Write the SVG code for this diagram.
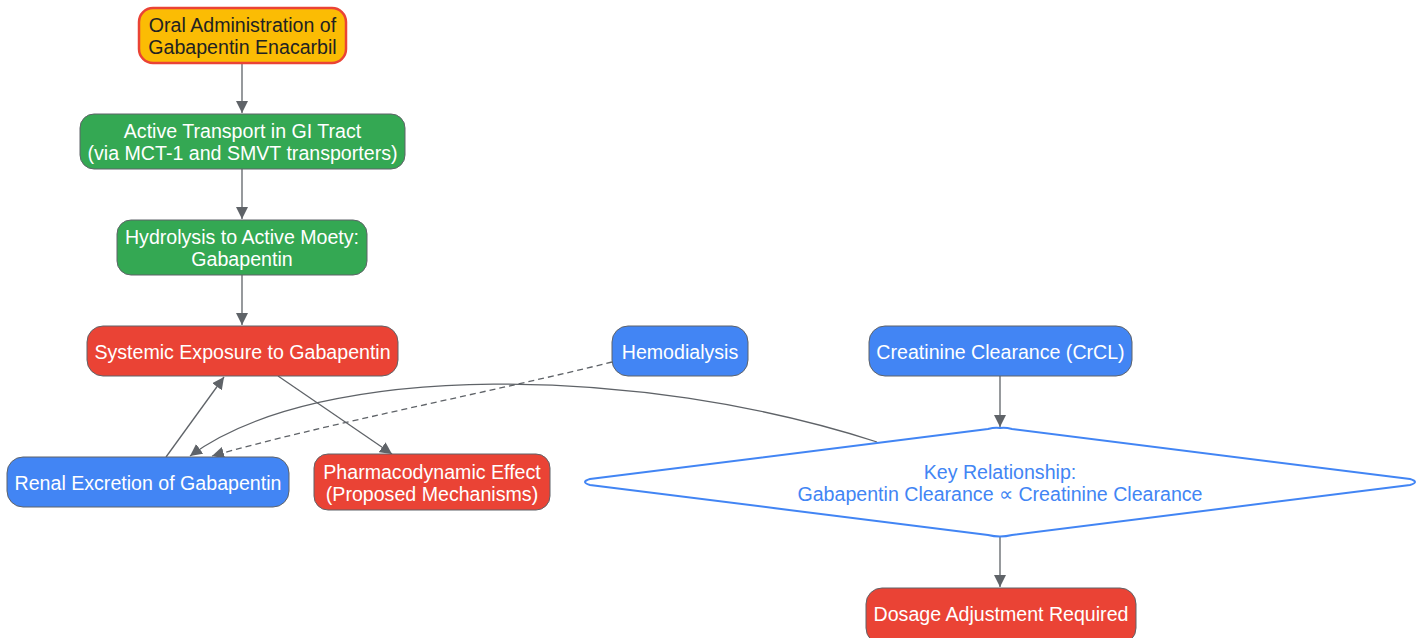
<svg xmlns="http://www.w3.org/2000/svg" width="1425" height="638" viewBox="0 0 1425 638">
<style>
text{font-family:"Liberation Sans",Arial,sans-serif;font-size:19.6px;text-anchor:middle}
.w{fill:#ffffff}
.node{stroke:#5f6368;stroke-width:1}
.red{fill:#EA4335}.green{fill:#34A853}.blue{fill:#4285F4}
.e{fill:none;stroke:#5f6368;stroke-width:1.3}
.d{stroke-dasharray:6,4}
</style>
<defs>
<marker id="a" viewBox="0 0 10 10" refX="10" refY="5" markerWidth="12" markerHeight="12" markerUnits="userSpaceOnUse" orient="auto">
<path d="M0,0 L10,5 L0,10 z" fill="#5f6368"/>
</marker>
</defs>
<rect width="1425" height="638" fill="#ffffff"/>
<g id="edges">
<path class="e" d="M242,63 V113" marker-end="url(#a)"/>
<path class="e" d="M242,169 V219" marker-end="url(#a)"/>
<path class="e" d="M242,275 V325" marker-end="url(#a)"/>
<path class="e" d="M278,376 L392,454" marker-end="url(#a)"/>
<path class="e" d="M166,457 L224,377" marker-end="url(#a)"/>
<path class="e" d="M877,442 C640,365 320,360 190,456" marker-end="url(#a)"/>
<path class="e d" d="M612,362 C500,390 320,425 212,456" marker-end="url(#a)"/>
<path class="e" d="M1000,376 V427" marker-end="url(#a)"/>
<path class="e" d="M1000,537 V587" marker-end="url(#a)"/>
</g>
<g id="n1">
<rect x="139" y="8" width="207" height="55" rx="14" fill="#FBBC04" stroke="#EA4335" stroke-width="2.5"/>
<text x="242.5" y="32" fill="#222">Oral Administration of</text>
<text x="242.5" y="54" fill="#222">Gabapentin Enacarbil</text>
</g>
<g id="n2">
<rect class="node green" x="80" y="114" width="325" height="55" rx="14"/>
<text class="w" x="242.5" y="138">Active Transport in GI Tract</text>
<text class="w" x="242.5" y="160">(via MCT-1 and SMVT transporters)</text>
</g>
<g id="n3">
<rect class="node green" x="117" y="220" width="250" height="55" rx="14"/>
<text class="w" x="242" y="244">Hydrolysis to Active Moety:</text>
<text class="w" x="242" y="266">Gabapentin</text>
</g>
<g id="n4">
<rect class="node red" x="87" y="326" width="311" height="50" rx="16"/>
<text class="w" x="242.5" y="359">Systemic Exposure to Gabapentin</text>
</g>
<g id="n5">
<rect class="node blue" x="612" y="326" width="136" height="50" rx="16"/>
<text class="w" x="680" y="359">Hemodialysis</text>
</g>
<g id="n6">
<rect class="node blue" x="869" y="326" width="263" height="50" rx="16"/>
<text class="w" x="1000.5" y="359">Creatinine Clearance (CrCL)</text>
</g>
<g id="n7">
<rect class="node blue" x="7" y="457" width="282" height="50" rx="16"/>
<text class="w" x="148" y="490">Renal Excretion of Gabapentin</text>
</g>
<g id="n8">
<rect class="node red" x="314" y="454" width="236" height="56" rx="14"/>
<text class="w" x="432" y="479">Pharmacodynamic Effect</text>
<text class="w" x="432" y="501">(Proposed Mechanisms)</text>
</g>
<g id="n9">
<path d="M1000,428 Q1005,427 1012,429 L1410,479 Q1420,482 1410,485 L1012,535 Q1000,538 988,535 L590,485 Q580,482 590,479 L988,429 Q995,427 1000,428 z" fill="#ffffff" stroke="#4285F4" stroke-width="2"/>
<text x="1000" y="479" fill="#4285F4">Key Relationship:</text>
<text x="1000" y="501" fill="#4285F4">Gabapentin Clearance ∝ Creatinine Clearance</text>
</g>
<g id="n10">
<rect class="node red" x="866" y="588" width="270" height="56" rx="16"/>
<text class="w" x="1001" y="621">Dosage Adjustment Required</text>
</g>
</svg>
